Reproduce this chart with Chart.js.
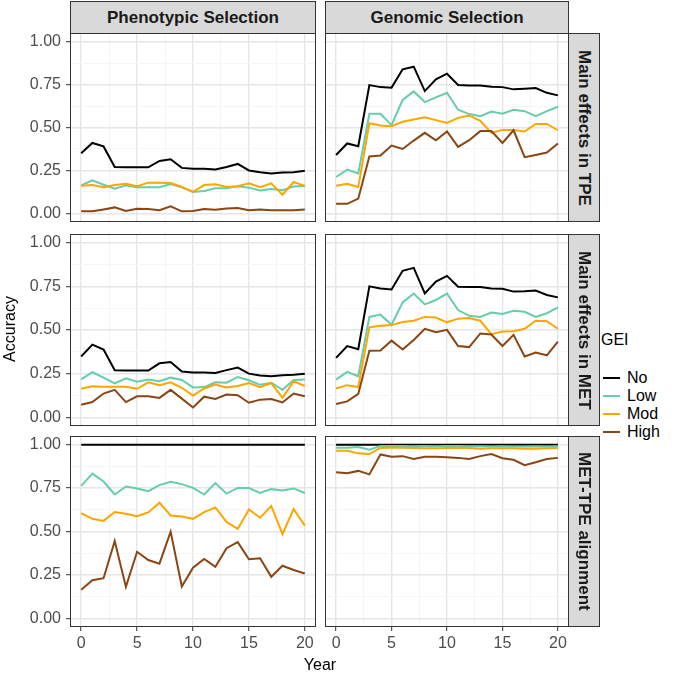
<!DOCTYPE html>
<html>
<head>
<meta charset="utf-8">
<script src="https://cdn.jsdelivr.net/npm/chart.js@4.4.0/dist/chart.umd.min.js"></script>
<style>
body{margin:0;background:#fff;font-family:"Liberation Sans",Arial,sans-serif;}
#wrap{position:relative;width:685px;height:680px;overflow:hidden;background:#fff;}
canvas{position:absolute;}
.strip{position:absolute;background:#d9d9d9;border:1px solid #333;box-sizing:border-box;
  font-weight:bold;font-size:17px;color:#1a1a1a;display:flex;align-items:center;justify-content:center;white-space:nowrap;}
.strip.v span{writing-mode:vertical-rl;}
.txt{position:absolute;white-space:nowrap;color:#000;}
.key{position:absolute;height:2px;width:17px;}
</style>
</head>
<body>
<div id="wrap"></div>
<script>
// facet grid of accuracy by year, one Chart per panel

const years = [0,1,2,3,4,5,6,7,8,9,10,11,12,13,14,15,16,17,18,19,20];
const geiLevels = ['No','Low','Mod','High'];
const geiColors = ['#000000','#66CDAA','#FFA500','#8B4513'];
const colTitles = ['Phenotypic Selection','Genomic Selection'];
const rowTitles = ['Main effects in TPE','Main effects in MET','MET-TPE alignment'];
const xTicks = [0,2.5,5,7.5,10,12.5,15,17.5,20];
const yTicks = [0,0.125,0.25,0.375,0.5,0.625,0.75,0.875,1];

// row 1: main effects in TPE
const psTpe = [
  [0.35,0.41,0.39,0.27,0.268,0.268,0.268,0.305,0.315,0.265,0.26,0.26,0.255,0.27,0.288,0.25,0.24,0.233,0.238,0.24,0.248],
  [0.163,0.193,0.167,0.144,0.163,0.152,0.152,0.152,0.171,0.152,0.125,0.13,0.146,0.146,0.158,0.15,0.134,0.142,0.135,0.156,0.16],
  [0.161,0.165,0.152,0.165,0.173,0.158,0.179,0.179,0.177,0.154,0.126,0.165,0.169,0.154,0.158,0.175,0.152,0.175,0.109,0.183,0.16],
  [0.012,0.012,0.023,0.035,0.014,0.027,0.025,0.019,0.041,0.012,0.014,0.025,0.021,0.029,0.031,0.019,0.023,0.018,0.018,0.018,0.023]
];
const gsTpe = [
  [0.34,0.407,0.391,0.747,0.735,0.732,0.839,0.854,0.712,0.78,0.813,0.747,0.745,0.745,0.737,0.735,0.722,0.726,0.73,0.702,0.687],
  [0.212,0.255,0.233,0.58,0.58,0.514,0.66,0.71,0.648,0.675,0.702,0.603,0.578,0.566,0.593,0.58,0.603,0.595,0.566,0.595,0.621],
  [0.161,0.173,0.154,0.525,0.512,0.508,0.533,0.547,0.56,0.543,0.527,0.556,0.57,0.539,0.469,0.486,0.486,0.477,0.521,0.521,0.484],
  [0.056,0.056,0.086,0.331,0.337,0.395,0.375,0.424,0.469,0.426,0.477,0.387,0.426,0.479,0.479,0.41,0.484,0.327,0.34,0.354,0.407]
];
// row 2: main effects in MET
const psMet = [
  [0.348,0.416,0.388,0.27,0.268,0.268,0.268,0.309,0.317,0.262,0.256,0.256,0.254,0.27,0.285,0.25,0.239,0.235,0.241,0.243,0.25],
  [0.217,0.258,0.227,0.194,0.223,0.204,0.217,0.206,0.227,0.214,0.171,0.173,0.2,0.198,0.231,0.212,0.186,0.198,0.157,0.214,0.216],
  [0.163,0.177,0.175,0.175,0.175,0.163,0.2,0.183,0.2,0.169,0.124,0.165,0.188,0.171,0.179,0.196,0.173,0.196,0.111,0.206,0.179],
  [0.072,0.087,0.136,0.157,0.087,0.12,0.12,0.111,0.157,0.107,0.056,0.118,0.105,0.13,0.126,0.083,0.101,0.105,0.085,0.136,0.12]
];
const gsMet = [
  [0.34,0.408,0.39,0.75,0.738,0.732,0.839,0.856,0.709,0.777,0.81,0.748,0.746,0.746,0.738,0.736,0.72,0.722,0.726,0.701,0.687],
  [0.216,0.26,0.235,0.575,0.588,0.53,0.658,0.709,0.647,0.672,0.709,0.614,0.581,0.575,0.6,0.592,0.61,0.604,0.575,0.596,0.629],
  [0.165,0.184,0.173,0.515,0.524,0.528,0.546,0.553,0.575,0.571,0.544,0.565,0.569,0.553,0.476,0.491,0.493,0.507,0.553,0.55,0.507],
  [0.076,0.091,0.134,0.381,0.383,0.439,0.388,0.443,0.507,0.487,0.501,0.408,0.402,0.48,0.474,0.408,0.472,0.348,0.371,0.355,0.433]
];
// row 3: MET-TPE alignment
const psAlign = [
  [1,1,1,1,1,1,1,1,1,1,1,1,1,1,1,1,1,1,1,1,1],
  [0.763,0.833,0.788,0.713,0.759,0.748,0.732,0.767,0.786,0.773,0.751,0.713,0.779,0.718,0.751,0.75,0.722,0.744,0.736,0.748,0.722],
  [0.606,0.573,0.561,0.612,0.602,0.588,0.61,0.666,0.592,0.586,0.573,0.612,0.639,0.555,0.515,0.627,0.579,0.647,0.485,0.629,0.534],
  [0.165,0.219,0.231,0.445,0.181,0.383,0.336,0.315,0.499,0.183,0.291,0.342,0.297,0.404,0.439,0.34,0.346,0.239,0.303,0.278,0.258]
];
const gsAlign = [
  [1,1,1,1,1,1,1,1,1,1,1,1,1,1,1,1,1,1,1,1,1],
  [0.983,0.983,0.986,0.971,0.992,0.992,0.992,0.991,0.992,0.991,0.992,0.992,0.991,0.991,0.99,0.991,0.99,0.99,0.991,0.99,0.991],
  [0.965,0.965,0.95,0.946,0.981,0.984,0.983,0.981,0.979,0.979,0.981,0.983,0.981,0.977,0.979,0.979,0.979,0.977,0.977,0.979,0.981],
  [0.841,0.835,0.849,0.829,0.944,0.93,0.934,0.918,0.93,0.93,0.928,0.924,0.918,0.934,0.946,0.922,0.913,0.882,0.899,0.918,0.924]
];

const panels = [[psTpe,gsTpe],[psMet,gsMet],[psAlign,gsAlign]];

// layout in px
const cols = [{left:0,width:316,axis:70},{left:325,width:244,axis:0}];
const rows = [{top:33,height:189},{top:234,height:192},{top:436,height:191}];
const xAxisH = 32;
const wrap = document.getElementById('wrap');

const panelBorder = {
  id:'panelBorder',
  afterDraw(chart){
    const a = chart.chartArea, ctx = chart.ctx;
    ctx.save();
    ctx.strokeStyle = '#333333'; ctx.lineWidth = 1;
    ctx.strokeRect(a.left+0.5, a.top+0.5, a.right-a.left-1, a.bottom-a.top-1);
    ctx.restore();
  }
};

function isMajorX(v){ return v % 5 === 0; }
function isMajorY(v){ return Math.abs(v*4 - Math.round(v*4)) < 1e-6; }

function makePanel(r, c){
  const col = cols[c], row = rows[r];
  const showX = r === rows.length-1, showY = c === 0;
  const w = col.width, h = row.height + (showX ? xAxisH : 0);
  const cv = document.createElement('canvas');
  cv.width = w; cv.height = h;
  cv.style.left = col.left+'px'; cv.style.top = row.top+'px';
  wrap.appendChild(cv);

  const series = panels[r][c];
  const datasets = series.map((vals,i)=>({
    label: geiLevels[i],
    data: years.map((y,k)=>({x:y, y:vals[k]})),
    borderColor: geiColors[i],
    borderWidth: 2,
    pointRadius: 0,
    fill: false,
    tension: 0,
    order: geiLevels.length - i
  }));

  new Chart(cv, {
    type:'line',
    data:{datasets},
    options:{
      responsive:false, animation:false,
      layout:{padding:0, autoPadding:false},
      plugins:{legend:{display:false}, tooltip:{enabled:false}},
      scales:{
        x:{
          type:'linear', min:-1, max:21,
          afterBuildTicks:(s)=>{ s.ticks = xTicks.map(v=>({value:v})); },
          afterFit:(s)=>{ s.height = showX ? xAxisH : 0; s.paddingLeft = 0; s.paddingRight = 0; },
          border:{display:false},
          grid:{
            color:(ctx)=> isMajorX(ctx.tick.value) ? '#E6E6E6' : '#F2F2F2',
            lineWidth:(ctx)=> isMajorX(ctx.tick.value) ? 1.4 : 0.8,
            drawTicks: showX, tickLength:4,
            tickColor:(ctx)=> isMajorX(ctx.tick.value) ? '#333333' : 'rgba(0,0,0,0)',
            tickWidth:1
          },
          ticks:{
            display: showX, autoSkip:false, maxRotation:0, padding:3,
            color:'#4D4D4D', font:{family:'"Liberation Sans", Arial, sans-serif', size:16},
            callback:(v)=> isMajorX(v) ? String(v) : ''
          }
        },
        y:{
          type:'linear', min:-0.05, max:1.05,
          afterBuildTicks:(s)=>{ s.ticks = yTicks.map(v=>({value:v})); },
          afterFit:(s)=>{ s.width = col.axis; s.paddingTop = 0; s.paddingBottom = 0; },
          border:{display:false},
          grid:{
            color:(ctx)=> isMajorY(ctx.tick.value) ? '#E6E6E6' : '#F2F2F2',
            lineWidth:(ctx)=> isMajorY(ctx.tick.value) ? 1.4 : 0.8,
            drawTicks: showY, tickLength:4,
            tickColor:(ctx)=> isMajorY(ctx.tick.value) ? '#333333' : 'rgba(0,0,0,0)',
            tickWidth:1
          },
          ticks:{
            display: showY, autoSkip:false, padding:5,
            color:'#4D4D4D', font:{family:'"Liberation Sans", Arial, sans-serif', size:16},
            callback:(v)=> isMajorY(v) ? v.toFixed(2) : ''
          }
        }
      }
    },
    plugins:[panelBorder]
  });
}

for (let r=0; r<rows.length; r++) for (let c=0; c<cols.length; c++) makePanel(r,c);

// strips
colTitles.forEach((t,c)=>{
  const d = document.createElement('div');
  d.className = 'strip';
  const left = cols[c].left + cols[c].axis;
  d.style.left = left+'px'; d.style.top = '1px';
  d.style.width = (cols[c].left + cols[c].width - left)+'px'; d.style.height = '33px';
  d.textContent = t;
  wrap.appendChild(d);
});
rowTitles.forEach((t,r)=>{
  const d = document.createElement('div');
  d.className = 'strip v';
  d.style.left = '568px'; d.style.top = rows[r].top+'px';
  d.style.width = '32px'; d.style.height = rows[r].height+'px';
  d.innerHTML = '<span>'+t+'</span>';
  wrap.appendChild(d);
});

// axis titles
const yt = document.createElement('div');
yt.className = 'txt'; yt.textContent = 'Accuracy'; yt.style.fontSize = '16px';
yt.style.left = '-25px'; yt.style.top = '320px'; yt.style.width='70px'; yt.style.textAlign='center';
yt.style.transform = 'rotate(-90deg)';
wrap.appendChild(yt);
const xt = document.createElement('div');
xt.className = 'txt'; xt.textContent = 'Year'; xt.style.fontSize = '16px';
xt.style.left = '290px'; xt.style.top = '656px'; xt.style.width='60px'; xt.style.textAlign='center';
wrap.appendChild(xt);

// legend
const lt = document.createElement('div');
lt.className = 'txt'; lt.textContent = 'GEI'; lt.style.fontSize = '16px';
lt.style.left = '601px'; lt.style.top = '331px';
wrap.appendChild(lt);
geiLevels.forEach((g,i)=>{
  const y = 378 + i*18;
  const k = document.createElement('div');
  k.className = 'key'; k.style.background = geiColors[i];
  k.style.left = '603px'; k.style.top = (y-1)+'px';
  wrap.appendChild(k);
  const s = document.createElement('div');
  s.className = 'txt'; s.textContent = g; s.style.fontSize = '16px';
  s.style.left = '627px'; s.style.top = (y-9)+'px';
  wrap.appendChild(s);
});
</script>
</body>
</html>
